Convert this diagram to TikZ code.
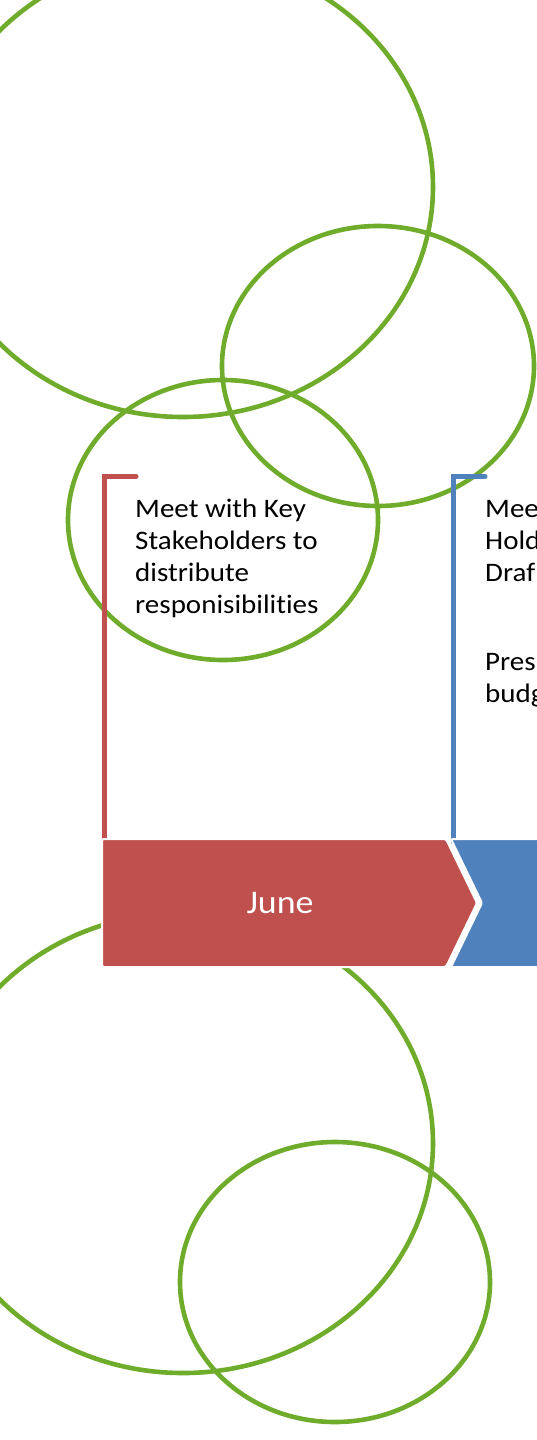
\documentclass[tikz,border=0pt]{standalone}
\usepackage{fontspec}
\setmainfont{Carlito}[FakeStretch=1.087,Ligatures=CommonOff]
\usepackage{tikz}
\usetikzlibrary{positioning,calc}
\definecolor{ringgreen}{HTML}{6FAC2B}
\definecolor{junered}{HTML}{C0504D}
\definecolor{julyblue}{HTML}{4F81BD}
\pgfdeclarelayer{background}
\pgfsetlayers{background,main}

\begin{document}
\begin{tikzpicture}[
            x=1pt, y=-1pt,
            ring/.style={draw=ringgreen,line width=4.6pt},
            bracket/.style={line width=5pt,line cap=round},
            phase/.style={draw=white,line width=2pt,rounded corners=1.5pt},
            item/.style={anchor=base west,inner sep=0pt,align=left,
                font=\fontsize{26.7}{32}\selectfont},
            label/.style={text=white,font=\fontsize{33}{40}\selectfont}
        ]
        \useasboundingbox (0,0) rectangle (537,1440);
        \clip (0,0) rectangle (537,1440);

        % Draw June phase %
        \coordinate (jtick) at (136,476.5);
        \coordinate (jfoot) at (104.5,842);
        \draw[bracket,junered] (jtick) -| (jfoot);
        % anchor sits on the last line %
        \node[item] (jtext) at (135,613) {Meet with Key\\Stakeholders to\\distribute\\responisibilities};
        \fill[phase,fill=junered] (102,839) -- (446,839) -- (477,903) -- (446,967) -- (102,967) -- cycle;
        \node[label] (june) at (280,903) {June};

        % Draw next phase %
        \coordinate (ntick) at (485,476.5);
        \coordinate (nfoot) at (453.5,842);
        \draw[bracket,julyblue] (ntick) -| (nfoot);
        \node[item] (ntext) at (485,581) {Mee\\Hold\\Draf};
        \node[item] (nmore) at (485,702) {Pres\\budg};
        \fill[phase,fill=julyblue] (451,839) -- (550,839) -- (550,967) -- (451,967) -- (482,903) -- cycle;

        % Draw rings %
        \begin{pgfonlayer}{background}
            \draw[ring] (183,187) ellipse [x radius=250,y radius=230];
            \draw[ring] (378,366) ellipse [x radius=156,y radius=140];
            \draw[ring] (223,520) ellipse [x radius=155,y radius=140];
            \draw[ring] (183,1143) ellipse [x radius=250,y radius=230];
            \draw[ring] (335,1282) ellipse [x radius=155,y radius=140];
        \end{pgfonlayer}
        \end{tikzpicture}
\end{document}
